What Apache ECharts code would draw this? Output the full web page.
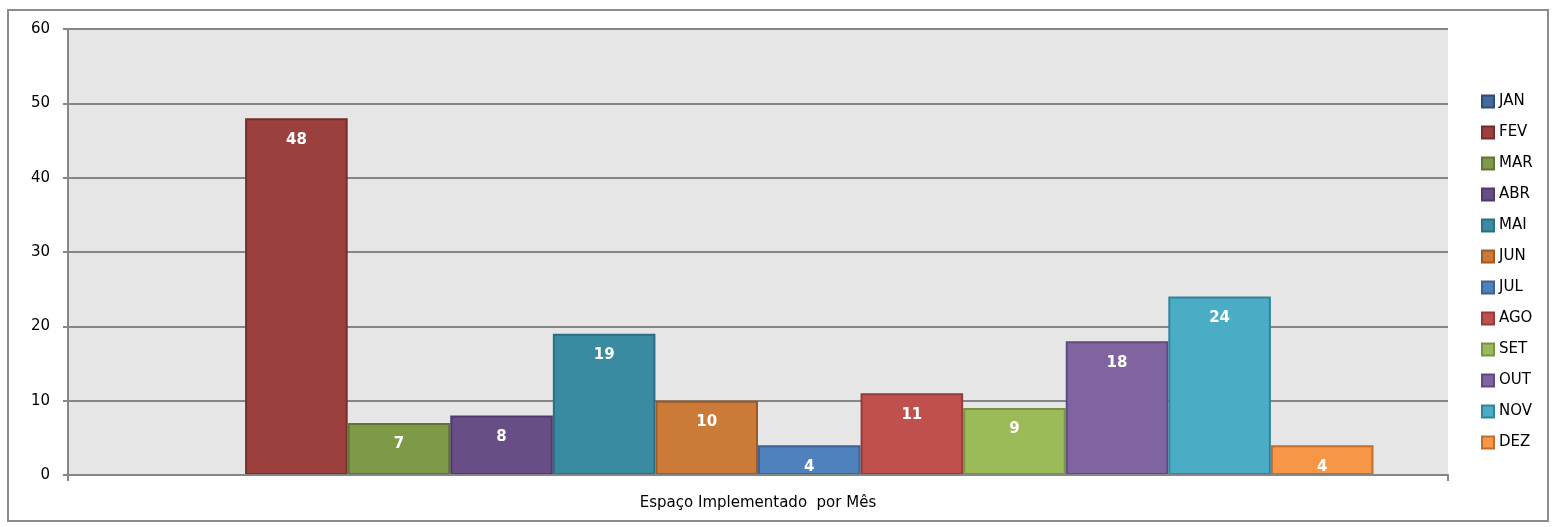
<!DOCTYPE html>
<html>
<head>
<meta charset="utf-8">
<script src="https://cdn.jsdelivr.net/npm/echarts@6/dist/echarts.min.js"></script>
<style>
  html, body { margin: 0; padding: 0; background: #fff; }
  #chart { width: 1555px; height: 527px; }
</style>
</head>
<body>
<div id="chart"></div>
<script>
// dados
var categorias = ['Espaço Implementado  por Mês'];
var meses = ['JAN', 'FEV', 'MAR', 'ABR', 'MAI', 'JUN', 'JUL', 'AGO', 'SET', 'OUT', 'NOV', 'DEZ'];
var valores = [0, 48, 7, 8, 19, 10, 4, 11, 9, 18, 24, 4];
var yTicks = [0, 10, 20, 30, 40, 50, 60];

var cores = ['#46699e', '#9c403e', '#7e9a48', '#674e87', '#3a8aa1', '#cc7a37',
             '#4f81bd', '#c0504d', '#9bbb59', '#8064a2', '#4bacc6', '#f79646'];
var bordas = ['#2c4d75', '#772c2a', '#5e7632', '#4f3a6a', '#2b6f84', '#9e5a24',
              '#3a6496', '#943a38', '#779343', '#5f4a7e', '#34839a', '#c06e2e'];

var fonte = 'DejaVu Sans';
var series = [];
for (var i = 0; i < meses.length; i++) {
  series.push({
    name: meses[i],
    type: 'bar',
    data: [valores[i]],
    barGap: '0%',
    barCategoryGap: '10.8%',
    itemStyle: { color: cores[i], borderColor: bordas[i], borderWidth: 2 },
    label: {
      show: true,
      position: 'insideTop',
      distance: 14,
      color: '#fff',
      fontWeight: 'bold',
      fontSize: 15,
      fontFamily: fonte,
      formatter: function(p) { return p.value ? String(p.value) : ''; }
    }
  });
}

var myChart = echarts.init(document.getElementById('chart'));
var option = {
  animation: false,
  color: cores,
  graphic: [{
    type: 'rect',
    shape: { x: 8, y: 10, width: 1540, height: 511 },
    style: { fill: 'none', stroke: '#8c8c8c', lineWidth: 2 },
    silent: true,
    z: -1
  }],
  grid: {
    left: 68, right: 107, top: 29, bottom: 52,
    show: true, backgroundColor: '#e6e6e6', borderWidth: 0
  },
  legend: {
    orient: 'vertical',
    left: 1476,
    top: 89,
    itemWidth: 12,
    itemHeight: 12,
    itemGap: 16,
    icon: 'rect',
    textStyle: { fontSize: 15, fontFamily: fonte, color: '#000' },
    data: meses
  },
  xAxis: {
    type: 'category',
    data: categorias,
    z: 5,
    axisLine: { lineStyle: { color: '#868686', width: 2 } },
    axisTick: { show: true, length: 6, lineStyle: { color: '#868686', width: 2 } },
    axisLabel: { margin: 21, fontSize: 15, fontFamily: fonte, color: '#000' }
  },
  yAxis: {
    type: 'value',
    min: yTicks[0],
    max: yTicks[yTicks.length - 1],
    interval: 10,
    axisLine: { show: true, lineStyle: { color: '#868686', width: 2 } },
    axisTick: { show: true, length: 5, lineStyle: { color: '#868686', width: 2 } },
    axisLabel: { margin: 18, fontSize: 15, fontFamily: fonte, color: '#000' },
    splitLine: { lineStyle: { color: '#868686', width: 2 } }
  },
  series: series
};
myChart.setOption(option);
</script>
</body>
</html>
